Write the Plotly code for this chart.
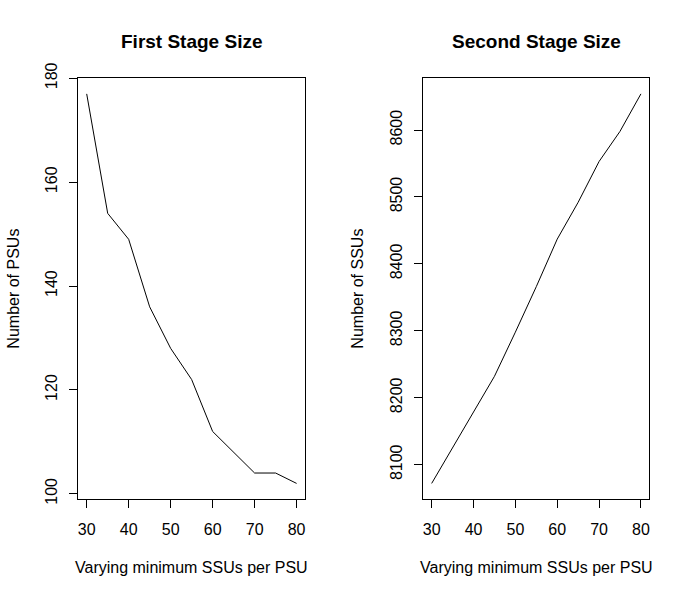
import plotly.graph_objects as go

min_ssus = [30, 35, 40, 45, 50, 55, 60, 65, 70, 75, 80]
num_psus = [177, 154, 149, 136, 128, 122, 112, 108, 104, 104, 102]
num_ssus = [8072, 8125, 8178, 8232, 8298, 8366, 8437, 8492, 8553, 8598, 8654]

titles = ["First Stage Size", "Second Stage Size"]
x_label = "Varying minimum SSUs per PSU"
y_labels = ["Number of PSUs", "Number of SSUs"]
x_ticks = [30, 40, 50, 60, 70, 80]
y1_ticks = [100, 120, 140, 160, 180]
y2_ticks = [8100, 8200, 8300, 8400, 8500, 8600]

W, H = 690, 597
FONT = "Liberation Sans, Arial, sans-serif"

def rng(v):
    lo, hi = min(v), max(v)
    d = (hi - lo) * 0.04
    return [lo - d, hi + d]

fig = go.Figure()
fig.add_trace(go.Scatter(x=min_ssus, y=num_psus, mode="lines",
                         line=dict(color="black", width=1), xaxis="x", yaxis="y"))
fig.add_trace(go.Scatter(x=min_ssus, y=num_ssus, mode="lines",
                         line=dict(color="black", width=1), xaxis="x2", yaxis="y2"))

ydom = [1 - 499 / H, 1 - 78.3 / H]
dom1 = [78.3 / W, 305 / W]
dom2 = [423.3 / W, 649.3 / W]

axcommon = dict(showline=True, linecolor="black", linewidth=1, mirror=True,
                ticks="outside", ticklen=8, tickwidth=1, tickcolor="black",
                showgrid=False, zeroline=False, automargin=False,
                tickfont=dict(family=FONT, size=16, color="black"))

fig.update_layout(
    width=W, height=H,
    margin=dict(l=0, r=0, t=0, b=0, pad=0),
    paper_bgcolor="white", plot_bgcolor="white",
    showlegend=False,
    xaxis=dict(domain=dom1, range=rng(min_ssus), tickvals=x_ticks, ticklabelstandoff=8,
               anchor="y", **axcommon),
    yaxis=dict(domain=ydom, range=rng(num_psus), tickvals=y1_ticks, tickangle=-90,
               ticklabelstandoff=6, anchor="x", **axcommon),
    xaxis2=dict(domain=dom2, range=rng(min_ssus), tickvals=x_ticks, ticklabelstandoff=8,
                anchor="y2", **axcommon),
    yaxis2=dict(domain=ydom, range=rng(num_ssus), tickvals=y2_ticks, tickangle=-90,
                ticklabelstandoff=6, anchor="x2", **axcommon),
)

ann = []
for dom, t, yl, xl in [(dom1, titles[0], y_labels[0], 14), (dom2, titles[1], y_labels[1], 358)]:
    cx = (dom[0] + dom[1]) / 2
    ann.append(dict(x=cx, y=1 - 41 / H, xref="paper", yref="paper", text="<b>%s</b>" % t,
                    showarrow=False, xanchor="center", yanchor="middle",
                    font=dict(family=FONT, size=19, color="black")))
    ann.append(dict(x=cx, y=1 - 567 / H, xref="paper", yref="paper", text=x_label,
                    showarrow=False, xanchor="center", yanchor="middle",
                    font=dict(family=FONT, size=16, color="black")))
    ann.append(dict(x=xl / W, y=(ydom[0] + ydom[1]) / 2, xref="paper", yref="paper", text=yl,
                    showarrow=False, xanchor="center", yanchor="middle", textangle=-90,
                    font=dict(family=FONT, size=16, color="black")))
fig.update_layout(annotations=ann)

fig.write_html("out.html", config={"displayModeBar": False},
               post_script="document.body.style.margin='0px';")
